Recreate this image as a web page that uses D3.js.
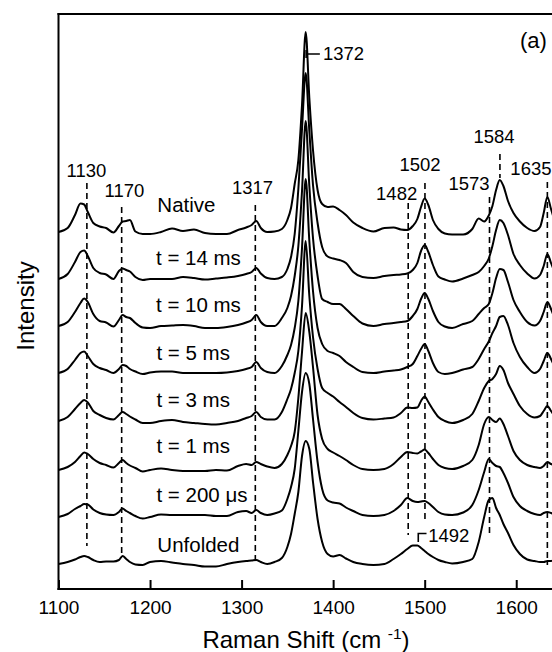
<!DOCTYPE html>
<html><head><meta charset="utf-8">
<script src="https://cdn.jsdelivr.net/npm/d3@7"></script>
<style>
body{margin:0;background:#fff;}
svg{display:block;}
text{font-family:"Liberation Sans",Arial,Helvetica,sans-serif;fill:#000;}
</style>
</head><body>
<svg id="chart" width="552" height="652"></svg>
<script>
// ---- data (Raman shift grid, cm-1) ----
const wavenumbers = [1100,1110,1118,1124,1128,1132,1138,1145,1152,1160,
  1166,1170,1174,1178,1184,1192,1200,1212,1224,1236,
  1248,1260,1272,1284,1296,1305,1311,1316,1321,1328,
  1336,1344,1350,1354,1358,1362,1366,1370,1374,1378,
  1383,1388,1394,1400,1407,1414,1422,1432,1444,1456,
  1466,1474,1481,1487,1492,1496,1500,1504,1509,1515,
  1522,1530,1542,1552,1559,1565,1570,1574,1578,1582,
  1586,1591,1597,1604,1612,1620,1626,1630,1634,1638,
  1641];

const seriesNames = ["Native","t = 14 ms","t = 10 ms","t = 5 ms","t = 3 ms","t = 1 ms","t = 200 \u03bcs","Unfolded"];
const seriesOffsets = [357,310,263,216,168,119,72,25];

const nativeI = [0,4,17,28.5,27.5,20,9,5.5,4,-0.5,
  6,10.5,11,12,0.5,-2,-2,0,3.5,1,
  2.5,-1,-2,-2,2,4.5,7,11,4,0,
  0.5,3,12,24,48,72,127,200,134,82,
  42,28,25,25.5,22,17,9.5,4,0.5,4,
  4.5,2.5,2,6,13,25,33.5,27,12,3,
  -1.5,-2.5,-2.5,3,13.5,10.5,16.5,26,42,52,
  46,31,19,10.5,4,1,5,19,35,23,
  14];
const t14msI = [0,5,17,27,28.5,23,11,6,4.5,0,
  8,10.5,9,7.5,2,-1,0,0,0,2,
  1,-0.5,0.5,1.5,3,5,7,11,5.5,1,
  0,2,10,22,45,90,150,206,148,94,
  56,32,22.5,20.5,19,16,7,2,1,3,
  4,4.5,5.5,9,16,28,34,27,14,2.5,
  -0.5,-2.5,0.5,4,7,13,20.5,33,49,59,
  56,44,25,14,5.5,0.5,4,13,25,16,
  9];
const t10msI = [0,4,14,23,27.5,24,12,5,3.5,-0.5,
  6,11,9,8,3,-1.5,-2,0,0.5,1,
  0,-2,-2,-1,1,3.5,6,11,4,0,
  0,8,18,30,50,80,135,205,140,88,
  50,27,24,22,22,17,10,2.5,0,2,
  3,4,5,10,17,27,33,27,15,4,
  -0.5,-2,2,5,12,18,22,33,48,57,
  56,44,26,14,4,0.5,5,14,24,17,
  10];
const t5msI = [0,4,13,20,21.5,17,9,5,3,0,
  4,8,7,4,1.5,-1,0.5,1.5,1.5,0,
  0,0,0,0.5,2,4,6,11,5,1,
  0,7,18,28,45,72,125,194,132,82,
  45,29,22,20,17,11,6,1,0,1.5,
  2.5,3.5,6,9,17,24,29,22,10,1,
  -1,0,3.5,6,14,24,31.5,40,47,56,
  57,48,30,16,6,0,4,12,20,14,
  8];
const t3msI = [0,4,12,18,21,18.5,10,6,3,1.5,
  6,9,7,4.5,1.5,-2,-2,0,1,-1,
  -2,-3,-3.5,-2,0,3,5,9,4,1.5,
  1.5,9,22,32,48,70,115,180,125,84,
  52,33,28,24.5,19,14,8,3,1.5,2.5,
  3.5,8,13.5,13,13.5,20,24.5,19,11.5,4,
  0,-2,1,7,20,33,40,42,47,55,
  51,38,27,15,7,3.5,5,10,15,10,
  6];
const t1msI = [0,3,8,14,17.5,16,11,7,5,2.5,
  7,10,7,4.5,2,-1.5,0,1.5,0,-1,
  -1,-1,0,-0.5,4,6,5,8,6,3.5,
  2,6,15,24,38,72,118,157,138,103,
  55,31,21,17.5,14,10,5,1,0,1,
  6,13,18,17,16.5,18.5,20.5,17,11,5,
  2,1,4,10,25,46,53,50,48,51.5,
  46,34,19,10,5,3,2,4,8,6,
  5];
const t200usI = [0,3,8,11,13,12.5,7.5,4,2.5,2,
  5,8.5,6,4,1,-1.5,0,2.5,2,2,
  2,2,1,1,5,6,4,7,4,2,
  3.5,6.5,18,30,48,86,125,144,133,98,
  55,28,16.5,14.5,13.5,9.5,6,2,1,2,
  6,12,19,16,15,15.5,16,14,10,5,
  2.5,2,4.5,12,27,45,58,54,51,50,
  44,34,20,11,6,3,2,4,5,4,
  3];
const unfoldedI = [0,2,4.5,7,8,7,4,2,2.5,2.5,
  4,8,5,2,-0.5,-1,2,3,1.5,0,
  -1,-2.5,-2.5,0,2,3,3.5,4,2,0,
  2,6,17,30,50,72,108,123,115,82,
  45,22,10,7.5,9,5.5,2,0,-1,0,
  5,10,15,18.5,18.5,16,13,10,7,4,
  2,0.5,2,5,22,47,64,66,56,49,
  40,31,19,10,4.5,3,2,2,3,3,
  4];
const seriesValues = [nativeI,t14msI,t10msI,t5msI,t3msI,t1msI,t200usI,unfoldedI];

const xTickValues = [1100,1200,1300,1400,1500,1600];
const bandPositions = [1131,1169,1315,1482,1500.3,1570.8,1582.2,1634];

// ---- annotation layout (data coordinates) ----
const bandExtents = [[43,406],[34,382],[29,384],[54,386],[67,406],[52,392],[411,435],[24,407]];
const peakLabels = [
  {t:"1130", x:1130.6, y:412, a:"middle"},
  {t:"1170", x:1172.1, y:392.3, a:"middle"},
  {t:"1317", x:1311.9, y:395, a:"middle"},
  {t:"1372", x:1388.9, y:529, a:"start"},
  {t:"1482", x:1469.4, y:389, a:"middle"},
  {t:"1502", x:1494.9, y:418, a:"middle"},
  {t:"1573", x:1548.4, y:399.5, a:"middle"},
  {t:"1584", x:1575.7, y:446, a:"middle"},
  {t:"1635", x:1593.6, y:414, a:"start"},
  {t:"1492", x:1503.9, y:47.3, a:"start"}
];
const seriesLabelPos = [[1208,377],[1206.5,324],[1206.5,277.3],[1207,229.5],[1207,182.5],[1207,136],[1207,87.5],[1208,37]];

// ---- scales ----
const svg = d3.select("#chart");
const x = d3.scaleLinear().domain([1100,1650]).range([58.5,562]);
const y = d3.scaleLinear().domain([0,575]).range([589,14]);

// dashed band markers
svg.append("g").selectAll("line").data(bandPositions).join("line")
  .attr("x1",d=>x(d)).attr("x2",d=>x(d))
  .attr("y1",(d,i)=>y(bandExtents[i][1])).attr("y2",(d,i)=>y(bandExtents[i][0]))
  .attr("stroke","#000").attr("stroke-width",1.6).attr("stroke-dasharray","6,4");

// spectra
const line = d3.line().x(d=>x(d[0])).y(d=>y(d[1])).curve(d3.curveMonotoneX);
svg.append("g").selectAll("path").data(seriesValues).join("path")
  .attr("d",(vals,i)=>line(wavenumbers.map((w,j)=>[w, seriesOffsets[i]+vals[j]])))
  .attr("fill","none").attr("stroke","#000").attr("stroke-width",2).attr("stroke-linejoin","round");

// frame
svg.append("line").attr("x1",x(1100)).attr("x2",x(1100)).attr("y1",y(575)-1).attr("y2",y(0)+1).attr("stroke","#000").attr("stroke-width",2);
svg.append("line").attr("x1",x(1100)-1).attr("x2",x(1650)).attr("y1",y(575)).attr("y2",y(575)).attr("stroke","#000").attr("stroke-width",2);
svg.append("line").attr("x1",x(1100)-1).attr("x2",x(1650)).attr("y1",y(0)).attr("y2",y(0)).attr("stroke","#000").attr("stroke-width",2);

// bottom axis
const xAxis = d3.axisBottom(x).tickValues(xTickValues).tickSizeInner(-9).tickSizeOuter(0).tickPadding(11.5).tickFormat(d3.format("d"));
const gx = svg.append("g").attr("transform",`translate(0,${y(0)})`).call(xAxis);
gx.select(".domain").remove();
gx.selectAll(".tick line").attr("stroke","#000").attr("stroke-width",2);
gx.selectAll(".tick text").attr("font-size",19).attr("font-family","Liberation Sans, Arial, sans-serif").attr("fill","#000");

// series labels
svg.append("g").selectAll("text").data(seriesNames).join("text")
  .attr("x",(d,i)=>x(seriesLabelPos[i][0])).attr("y",(d,i)=>y(seriesLabelPos[i][1]))
  .attr("font-size",20.5).text(d=>d);

// peak labels
svg.append("g").selectAll("text").data(peakLabels).join("text")
  .attr("x",d=>x(d.x)).attr("y",d=>y(d.y)).attr("text-anchor",d=>d.a)
  .attr("font-size",18.5).text(d=>d.t);

// connectors for 1372 and 1492
const p1372 = d3.path();
p1372.moveTo(x(1370.5), y(539)); p1372.lineTo(x(1370.5), y(531));
p1372.moveTo(x(1370.5), y(535)); p1372.lineTo(x(1385.5), y(535));
svg.append("path").attr("d",p1372.toString()).attr("stroke","#000").attr("stroke-width",1.6).attr("fill","none");
const p1492 = d3.path();
p1492.moveTo(x(1493), y(47)); p1492.lineTo(x(1493), y(55.5)); p1492.lineTo(x(1502), y(55.5));
svg.append("path").attr("d",p1492.toString()).attr("stroke","#000").attr("stroke-width",1.6).attr("fill","none");

// panel tag
svg.append("text").attr("x",x(1604)).attr("y",y(541)).attr("font-size",22).text("(a)");

// axis titles
const xt = svg.append("text").attr("x",306).attr("y",648).attr("text-anchor","middle").attr("font-size",24);
xt.append("tspan").text("Raman Shift (cm ");
xt.append("tspan").attr("font-size",15.5).attr("dy",-9).text("-1");
xt.append("tspan").attr("dy",9).text(")");
svg.append("text").attr("transform","translate(34,306) rotate(-90)").attr("text-anchor","middle").attr("font-size",24).text("Intensity");
</script>
</body></html>
